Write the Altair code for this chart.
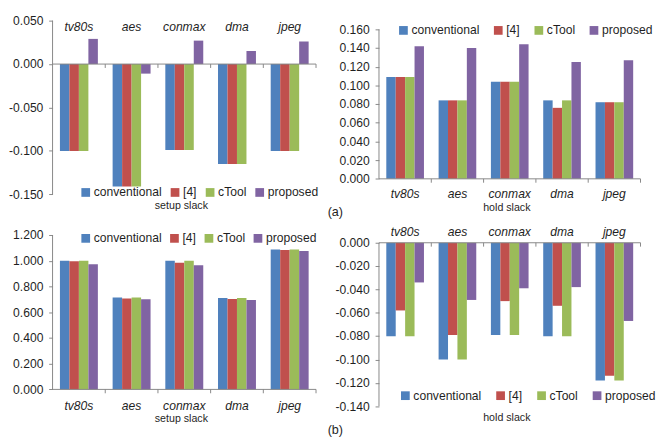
import altair as alt
import pandas as pd

categories = ["tv80s", "aes", "conmax", "dma", "jpeg"]
series = ["conventional", "[4]", "cTool", "proposed"]
colors = ["#4F81BD", "#C0504D", "#9BBB59", "#8064A2"]

# (a) setup slack
setup_a_conventional = [-0.100, -0.141, -0.099, -0.115, -0.100]
setup_a_ref4 = [-0.100, -0.141, -0.099, -0.115, -0.100]
setup_a_ctool = [-0.100, -0.141, -0.099, -0.115, -0.100]
setup_a_proposed = [0.029, -0.011, 0.027, 0.015, 0.026]
setup_a_ticks = [0.05, 0.0, -0.05, -0.1, -0.15]

# (a) hold slack
hold_a_conventional = [0.109, 0.084, 0.104, 0.084, 0.082]
hold_a_ref4 = [0.109, 0.084, 0.104, 0.076, 0.082]
hold_a_ctool = [0.109, 0.084, 0.104, 0.084, 0.082]
hold_a_proposed = [0.142, 0.140, 0.144, 0.125, 0.127]
hold_a_ticks = [0.0, 0.02, 0.04, 0.06, 0.08, 0.10, 0.12, 0.14, 0.16]

# (b) setup slack
setup_b_conventional = [1.000, 0.715, 1.000, 0.710, 1.088]
setup_b_ref4 = [0.997, 0.707, 0.985, 0.702, 1.083]
setup_b_ctool = [1.000, 0.714, 1.000, 0.710, 1.088]
setup_b_proposed = [0.972, 0.700, 0.965, 0.695, 1.075]
setup_b_ticks = [0.0, 0.2, 0.4, 0.6, 0.8, 1.0, 1.2]

# (b) hold slack
hold_b_conventional = [-0.080, -0.100, -0.079, -0.080, -0.118]
hold_b_ref4 = [-0.058, -0.079, -0.050, -0.054, -0.114]
hold_b_ctool = [-0.080, -0.100, -0.079, -0.080, -0.118]
hold_b_proposed = [-0.034, -0.049, -0.039, -0.038, -0.067]
hold_b_ticks = [0.0, -0.02, -0.04, -0.06, -0.08, -0.10, -0.12, -0.14]

FONT = "Liberation Sans"
AXIS_GREY = "#868686"
TEXT = "#1f1f1f"


def make_df(lists):
    rows = []
    for s, vals in zip(series, lists):
        for c, v in zip(categories, vals):
            rows.append({"category": c, "series": s, "value": v})
    return pd.DataFrame(rows)


def panel(lists, ticks, top_val, top_px, bot_val, bot_px, W, H,
          cat_y, title, title_x, title_y, leg_x, leg_y, leg_pad, tag=None):
    k = (bot_px - top_px) / (top_val - bot_val)
    domain = [bot_val - (H - bot_px) / k, top_val + top_px / k]
    df = make_df(lists)
    one = pd.DataFrame({"d": [0]})
    xenc = alt.X("category:N", sort=categories, axis=None,
                 scale=alt.Scale(paddingInner=0.28, paddingOuter=0.14))
    yscale = alt.Scale(domain=domain, nice=False, zero=False)
    yaxis = alt.Axis(values=ticks, domain=False, grid=False,
                     tickSize=4, tickColor=AXIS_GREY, labelPadding=6,
                     labelFont=FONT, labelFontSize=12.5,
                     labelFontWeight="normal",
                     labelColor=TEXT, labelOverlap=False,
                     labelFlush=False, labelBound=False, title=None,
                     labelExpr="(datum.value < -0.0000001 ? '-' : '') + format(abs(datum.value), '.3f')")
    bars = alt.Chart(df).mark_bar().encode(
        x=xenc,
        xOffset=alt.XOffset("series:N", sort=series,
                            scale=alt.Scale(paddingInner=0, paddingOuter=0)),
        y=alt.Y("value:Q", scale=yscale, title=None, axis=yaxis),
        y2=alt.datum(0),
        color=alt.Color("series:N", sort=series,
                        scale=alt.Scale(domain=series, range=colors),
                        legend=alt.Legend(orient="none", legendX=leg_x, legendY=leg_y,
                                          direction="horizontal", title=None,
                                          symbolType="square", symbolSize=81,
                                          symbolStrokeWidth=0, labelFont=FONT,
                                          labelFontSize=12.5, labelColor=TEXT,
                                          labelOffset=2, columnPadding=leg_pad,
                                          padding=0)),
    )
    yline = alt.Chart(one).mark_rule(color=AXIS_GREY, strokeWidth=1).encode(
        x=alt.value(0), y=alt.YDatum(max(ticks), axis=yaxis, title=None),
        y2=alt.datum(min(ticks)))
    xline = alt.Chart(one).mark_rule(color=AXIS_GREY, strokeWidth=1).encode(
        y=alt.YDatum(0, axis=yaxis, title=None), x=alt.value(0), x2=alt.value(W))
    tick_layers = [
        alt.Chart(one).mark_rule(color=AXIS_GREY, strokeWidth=1).encode(
            x=alt.value(i * W / 5), y=alt.YDatum(0, axis=yaxis, title=None),
            y2=alt.datum(-4.0 / k))
        for i in range(1, 6)
    ]
    cats = alt.Chart(pd.DataFrame({"category": categories})).mark_text(
        font=FONT, fontSize=12.5, fontStyle="italic", fontWeight="normal",
        color=TEXT, baseline="middle").encode(
        x=xenc, y=alt.value(cat_y), text="category:N")
    ttl = alt.Chart(one).mark_text(font=FONT, fontSize=11, color=TEXT,
                                   fontWeight="normal",
                                   baseline="middle", align="center").encode(
        x=alt.value(title_x), y=alt.value(title_y), text=alt.value(title))
    layers = [bars, yline, xline] + tick_layers + [cats, ttl]
    if tag is not None:
        layers.append(alt.Chart(one).mark_text(font=FONT, fontSize=13, color=TEXT,
                                               fontWeight="normal",
                                               baseline="middle", align="left").encode(
            x=alt.value(tag[1]), y=alt.value(tag[2]), text=alt.value(tag[0])))
    return alt.layer(*layers).properties(width=W, height=H)


W1, W2 = 272, 270
H1, H2 = 179.3, 176.7

p1 = panel([setup_a_conventional, setup_a_ref4, setup_a_ctool, setup_a_proposed],
           setup_a_ticks, 0.05, 0.0, -0.15, H1, W1, H1,
           6.6, "setup slack", 133, 191.0, 28, 171.0, 7.2)
p2 = panel([hold_a_conventional, hold_a_ref4, hold_a_ctool, hold_a_proposed],
           hold_a_ticks, 0.16, 9.0, 0.0, 163.3, W2, H1,
           179.6, "hold slack", 132, 193.6, 19, 3.7, 12.9, tag=("(a)", -53, 197.3))
p3 = panel([setup_b_conventional, setup_b_ref4, setup_b_ctool, setup_b_proposed],
           setup_b_ticks, 1.2, 0.0, 0.0, 159.4, W1, H2,
           176.7, "setup slack", 133, 190.2, 28, -2.9, 6.6)
p4 = panel([hold_b_conventional, hold_b_ref4, hold_b_ctool, hold_b_proposed],
           hold_b_ticks, 0.0, 8.0, -0.14, H2, W2, H2,
           -3.3, "hold slack", 132, 189.5, 21, 159.5, 13.3, tag=("(b)", -53, 201.2))

chart = alt.concat(p1, p2, p3, p4, columns=2,
                   spacing=alt.RowColnumber(row=41.3, column=65),
                   bounds="flush", align="each").resolve_scale(
    color="independent", x="independent", y="independent", xOffset="independent"
).resolve_legend(color="independent").properties(
    padding=0, background="white"
).configure_view(stroke=None)

chart.save("out.html", embed_options={"renderer": "svg", "actions": False})
